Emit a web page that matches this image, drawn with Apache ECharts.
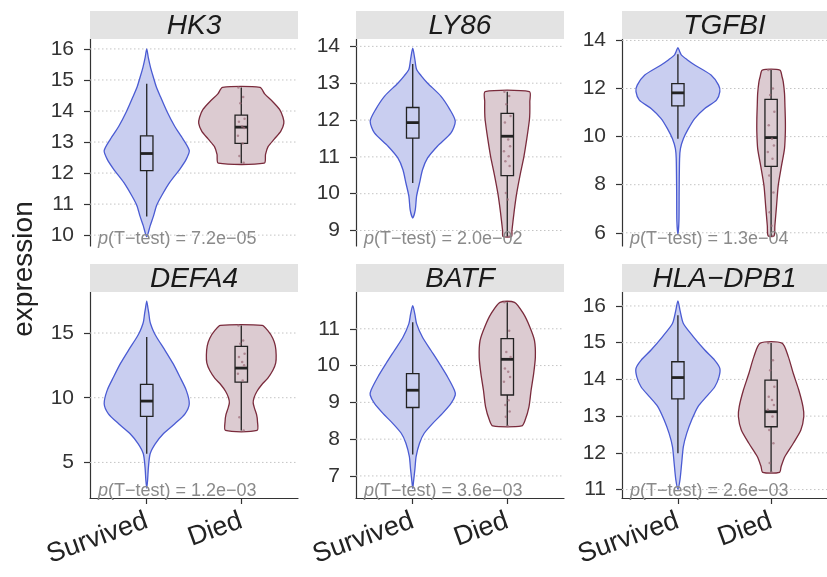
<!DOCTYPE html>
<html><head><meta charset="utf-8">
<script src="https://cdn.jsdelivr.net/npm/echarts@6/dist/echarts.min.js"></script>
<style>html,body{margin:0;padding:0;background:#fff}#c{width:827px;height:577px}</style>
</head><body><div id="c"></div>
<script>
// ---------- data ----------
const genes = ['HK3', 'LY86', 'TGFBI', 'DEFA4', 'BATF', 'HLA\u2212DPB1'];
const groups = ['Survived', 'Died'];
const pValues = ['7.2e\u221205', '2.0e\u221202', '1.3e\u221204', '1.2e\u221203', '3.6e\u221203', '2.6e\u221203'];

const yTicks = [
  [10, 11, 12, 13, 14, 15, 16],
  [9, 10, 11, 12, 13, 14],
  [6, 8, 10, 12, 14],
  [5, 10, 15],
  [7, 8, 9, 10, 11],
  [11, 12, 13, 14, 15, 16]
];
const yRanges = [
  [9.65, 16.32], [8.58, 14.2], [5.45, 14.06],
  [2.25, 18.17], [6.4, 12.0], [10.77, 16.38]
];

// violin outlines: [expression, relative half-width]
const hk3Survived = [[16.0,0],[15.7,0.04],[15.4,0.09],[15.07,0.16],[14.8,0.22],[14.5,0.31],[14.0,0.47],[13.5,0.66],[13.1,0.85],[12.72,1.0],[12.45,0.93],[12.13,0.78],[11.7,0.54],[11.27,0.35],[10.95,0.23],[10.62,0.16],[10.3,0.08],[9.95,0]];
const hk3Died = [[14.76,0.44],[14.55,0.55],[14.3,0.74],[14.05,0.9],[13.8,0.98],[13.6,1.0],[13.35,0.93],[13.1,0.78],[12.85,0.63],[12.6,0.57],[12.32,0.54]];
const ly86Survived = [[13.95,0],[13.65,0.05],[13.38,0.09],[13.2,0.2],[13.0,0.35],[12.65,0.66],[12.29,0.87],[11.97,1.0],[11.65,0.9],[11.29,0.58],[10.97,0.35],[10.65,0.23],[10.29,0.16],[9.93,0.09],[9.56,0.06],[9.34,0]];
const ly86Died = [[12.77,0.52],[12.5,0.53],[12.2,0.53],[12.0,0.52],[11.5,0.46],[11.0,0.39],[10.5,0.3],[10.0,0.22],[9.5,0.16],[9.0,0.11],[8.84,0.1]];
const tgfbiSurvived = [[13.7,0],[13.55,0.04],[13.4,0.08],[13.2,0.22],[12.98,0.4],[12.56,0.79],[12.14,0.97],[11.87,1.0],[11.52,0.92],[11.17,0.64],[10.75,0.4],[10.33,0.25],[9.91,0.13],[9.5,0.06],[9.08,0.04],[7.8,0.03],[6.5,0.025],[5.94,0]];
const tgfbiDied = [[12.77,0.21],[12.5,0.26],[12.28,0.29],[11.8,0.32],[11.3,0.33],[10.7,0.34],[10.19,0.34],[9.5,0.32],[8.8,0.25],[7.96,0.17],[7.12,0.13],[6.29,0.09],[5.87,0.07]];
const defa4Survived = [[17.47,0],[16.9,0.03],[16.5,0.05],[16.0,0.07],[15.72,0.09],[15.2,0.15],[14.69,0.23],[13.66,0.43],[12.63,0.62],[11.6,0.78],[10.57,0.93],[9.54,1.0],[8.76,0.9],[7.99,0.66],[7.22,0.39],[6.44,0.2],[5.67,0.08],[4.64,0.04],[3.6,0.02],[3.0,0]];
const defa4Died = [[15.59,0.49],[15.2,0.62],[14.6,0.74],[14.0,0.8],[13.3,0.82],[12.7,0.81],[12.1,0.74],[11.5,0.62],[11.0,0.48],[10.5,0.37],[10.0,0.3],[9.6,0.28],[9.2,0.31],[8.7,0.36],[8.2,0.38],[7.47,0.37]];
const batfSurvived = [[11.63,0],[11.4,0.05],[11.14,0.09],[10.77,0.23],[10.41,0.43],[10.05,0.63],[9.69,0.82],[9.33,0.98],[9.2,1.0],[8.97,0.9],[8.7,0.7],[8.43,0.47],[8.16,0.27],[7.89,0.16],[7.53,0.08],[7.17,0.05],[6.86,0.02],[6.66,0]];
const batfDied = [[11.72,0.17],[11.41,0.38],[11.05,0.53],[10.68,0.64],[10.23,0.66],[9.78,0.62],[9.33,0.56],[8.88,0.51],[8.52,0.42],[8.36,0.34]];
const hlaSurvived = [[16.14,0],[15.88,0.05],[15.52,0.13],[15.16,0.37],[14.8,0.64],[14.52,0.88],[14.3,1.0],[14.07,0.98],[13.8,0.88],[13.53,0.68],[13.26,0.48],[12.9,0.33],[12.53,0.21],[12.17,0.13],[11.72,0.09],[11.27,0.05],[11.01,0]];
const hlaDied = [[14.99,0.26],[14.62,0.41],[14.16,0.53],[13.71,0.66],[13.26,0.76],[12.99,0.78],[12.62,0.71],[12.26,0.53],[11.9,0.33],[11.63,0.24],[11.47,0.2]];

// boxplot stats: [lower whisker, Q1, median, Q3, upper whisker]
const hk3Box = [[10.6,12.08,12.63,13.2,14.88],[12.32,12.96,13.48,13.87,14.76]];
const ly86Box = [[10.29,11.51,11.93,12.34,13.52],[8.84,10.49,11.56,12.18,12.77]];
const tgfbiBox = [[9.91,11.28,11.82,12.2,13.43],[5.87,8.76,9.96,11.55,12.77]];
const defa4Box = [[5.67,8.56,9.74,11.03,14.69],[7.47,11.21,12.29,13.97,15.59]];
const batfBox = [[7.58,8.86,9.33,9.78,11.18],[8.36,9.2,10.17,10.73,11.72]];
const hlaBox = [[11.99,13.47,14.05,14.48,15.75],[11.47,12.71,13.12,13.98,14.99]];

// points of the Died group (values)
const hk3DiedPts = [14.76,14.45,14.25,13.75,13.65,13.5,13.45,13.2,12.95,12.55,12.33];
const ly86DiedPts = [12.77,12.65,12.43,12.11,11.93,11.47,11.29,11.15,11.02,10.88,10.75,10.02,9.84,8.84];
const tgfbiDiedPts = [12.77,12.0,11.73,11.03,10.47,9.91,9.63,9.36,9.08,8.38,7.68,6.85,6.29,5.87];
const defa4DiedPts = [15.59,14.43,14.18,13.4,13.14,12.76,12.5,11.86,11.34,8.5,7.47];
const batfDiedPts = [11.72,10.95,10.37,10.23,9.92,9.83,9.69,9.56,9.06,8.93,8.75,8.61,8.36];
const hlaDiedPts = [14.99,14.52,14.25,13.8,13.53,13.44,13.3,13.17,12.99,12.62,12.26,11.72,11.47];
const jitter = [-0.03,0.02,-0.01,0.035,-0.025,0.01,0.03,-0.035,0.015,-0.02,0.025,-0.015,0.005,0.02];

const violins = [[hk3Survived,hk3Died],[ly86Survived,ly86Died],[tgfbiSurvived,tgfbiDied],[defa4Survived,defa4Died],[batfSurvived,batfDied],[hlaSurvived,hlaDied]];
const boxes = [hk3Box, ly86Box, tgfbiBox, defa4Box, batfBox, hlaBox];
const diedPts = [hk3DiedPts, ly86DiedPts, tgfbiDiedPts, defa4DiedPts, batfDiedPts, hlaDiedPts];

// ---------- layout / style ----------
const FONT = 'Liberation Sans, Arial, Helvetica, sans-serif';
const colLeft = [90, 356, 622], colWidth = [208, 208, 205];
const rowTop = [39, 292], rowHeight = [207, 206];
const STRIP_H = 28;
const HALF = 0.45, BOX_HALF = 0.066;
const fills = ['#c9cef0', '#dccbd1'];
const strokes = ['#4a5bd3', '#7a2b3c'];

const chart = echarts.init(document.getElementById('c'), null, {renderer: 'canvas'});
const grid = [], xAxis = [], yAxis = [], series = [], graphic = [];

for (let i = 0; i < 6; i++) {
  const r = Math.floor(i / 3), c = i % 3;
  const L = colLeft[c], T = rowTop[r], W = colWidth[c], H = rowHeight[r];
  grid.push({left: L, top: T, width: W, height: H});
  xAxis.push({
    gridIndex: i, type: 'value', min: 0.4, max: 2.6, show: r === 1,
    axisLine: {show: true, onZero: false, lineStyle: {color: '#333', width: 1.2}},
    axisTick: {show: true, customValues: [1, 2], length: 6, lineStyle: {color: '#333', width: 1.2}},
    axisLabel: {customValues: [1, 2], formatter: v => groups[Math.round(v) - 1], rotate: 20,
      fontSize: 27, color: '#222', fontFamily: FONT, margin: 22},
    splitLine: {show: false}
  });
  yAxis.push({
    gridIndex: i, type: 'value', min: yRanges[i][0], max: yRanges[i][1],
    axisLine: {show: true, onZero: false, lineStyle: {color: '#333', width: 1.2}},
    axisTick: {show: true, customValues: yTicks[i], length: 6, lineStyle: {color: '#333', width: 1.2}},
    axisLabel: {customValues: yTicks[i], fontSize: 21, color: '#333', fontFamily: FONT, margin: 16},
    splitLine: {show: false}
  });
  // dotted gridlines
  series.push({
    type: 'custom', xAxisIndex: i, yAxisIndex: i, z: 1, silent: true,
    data: yTicks[i].map(t => [1, t]),
    renderItem: (p, api) => {
      const a = api.coord([0.4, api.value(1)]), b = api.coord([2.6, api.value(1)]);
      return {type: 'line', shape: {x1: a[0], y1: a[1], x2: b[0], y2: b[1]},
        style: {stroke: '#c4c4c4', lineWidth: 1, lineDash: [1.5, 2.5]}};
    }
  });
  // violins
  series.push({
    type: 'custom', xAxisIndex: i, yAxisIndex: i, z: 2, silent: true,
    data: [[1, 0], [2, 0]],
    renderItem: (p, api) => {
      const g = p.dataIndex, prof = violins[i][g], cx = g + 1;
      const pts = [];
      prof.forEach(([v, w]) => pts.push(api.coord([cx - w * HALF, v])));
      for (let k = prof.length - 1; k >= 0; k--) {
        const [v, w] = prof[k];
        if (w === 0) continue;
        pts.push(api.coord([cx + w * HALF, v]));
      }
      return {type: 'polygon', shape: {points: pts, smooth: 0.25},
        style: {fill: fills[g], stroke: strokes[g], lineWidth: 1.3}};
    }
  });
  // boxplots
  series.push({
    type: 'custom', xAxisIndex: i, yAxisIndex: i, z: 3, silent: true,
    data: [[1, 0], [2, 0]],
    renderItem: (p, api) => {
      const g = p.dataIndex, s = boxes[i][g], cx = g + 1;
      const lo = api.coord([cx, s[0]]), q1 = api.coord([cx, s[1]]), md = api.coord([cx, s[2]]),
            q3 = api.coord([cx, s[3]]), hi = api.coord([cx, s[4]]);
      const xl = api.coord([cx - BOX_HALF, s[2]])[0], xr = api.coord([cx + BOX_HALF, s[2]])[0];
      const st = {stroke: '#222', lineWidth: 1.3, fill: 'rgba(0,0,0,0)'};
      return {type: 'group', children: [
        {type: 'line', shape: {x1: hi[0], y1: hi[1], x2: q3[0], y2: q3[1]}, style: st},
        {type: 'line', shape: {x1: q1[0], y1: q1[1], x2: lo[0], y2: lo[1]}, style: st},
        {type: 'rect', shape: {x: xl, y: q3[1], width: xr - xl, height: q1[1] - q3[1]}, style: st},
        {type: 'line', shape: {x1: xl, y1: md[1], x2: xr, y2: md[1]}, style: {stroke: '#222', lineWidth: 2.8}}
      ]};
    }
  });
  // died points
  series.push({
    type: 'scatter', xAxisIndex: i, yAxisIndex: i, z: 4, silent: true,
    symbolSize: 2.5,
    itemStyle: {color: '#9b6b78', opacity: 0.7},
    data: diedPts[i].map((v, k) => [2 + jitter[k % jitter.length], v])
  });
  // strip
  graphic.push({type: 'rect', left: L, top: T - STRIP_H, shape: {width: W, height: STRIP_H},
    style: {fill: '#e3e3e3'}, z: 10});
  graphic.push({type: 'text', x: L + W / 2, y: T - STRIP_H / 2 + 1,
    style: {text: genes[i], font: 'italic 28px ' + FONT, fill: '#1a1a1a', align: 'center', verticalAlign: 'middle'}, z: 11});
  // p-value annotation
  graphic.push({type: 'text', x: L + 8, y: T + H + 2,
    style: {text: '{i|p}(T\u2212test) = ' + pValues[i], fontFamily: FONT, fontSize: 18, fill: '#8a8a8a',
      align: 'left', verticalAlign: 'bottom',
      rich: {i: {fontStyle: 'italic', fontSize: 18, fontFamily: FONT, color: '#8a8a8a'}}}, z: 12});
}
graphic.push({type: 'text', x: 24, y: 269, rotation: Math.PI / 2,
  style: {text: 'expression', font: '28px ' + FONT, fill: '#222', align: 'center', verticalAlign: 'middle'}, z: 12});

chart.setOption({animation: false, grid, xAxis, yAxis, series, graphic});
</script></body></html>
